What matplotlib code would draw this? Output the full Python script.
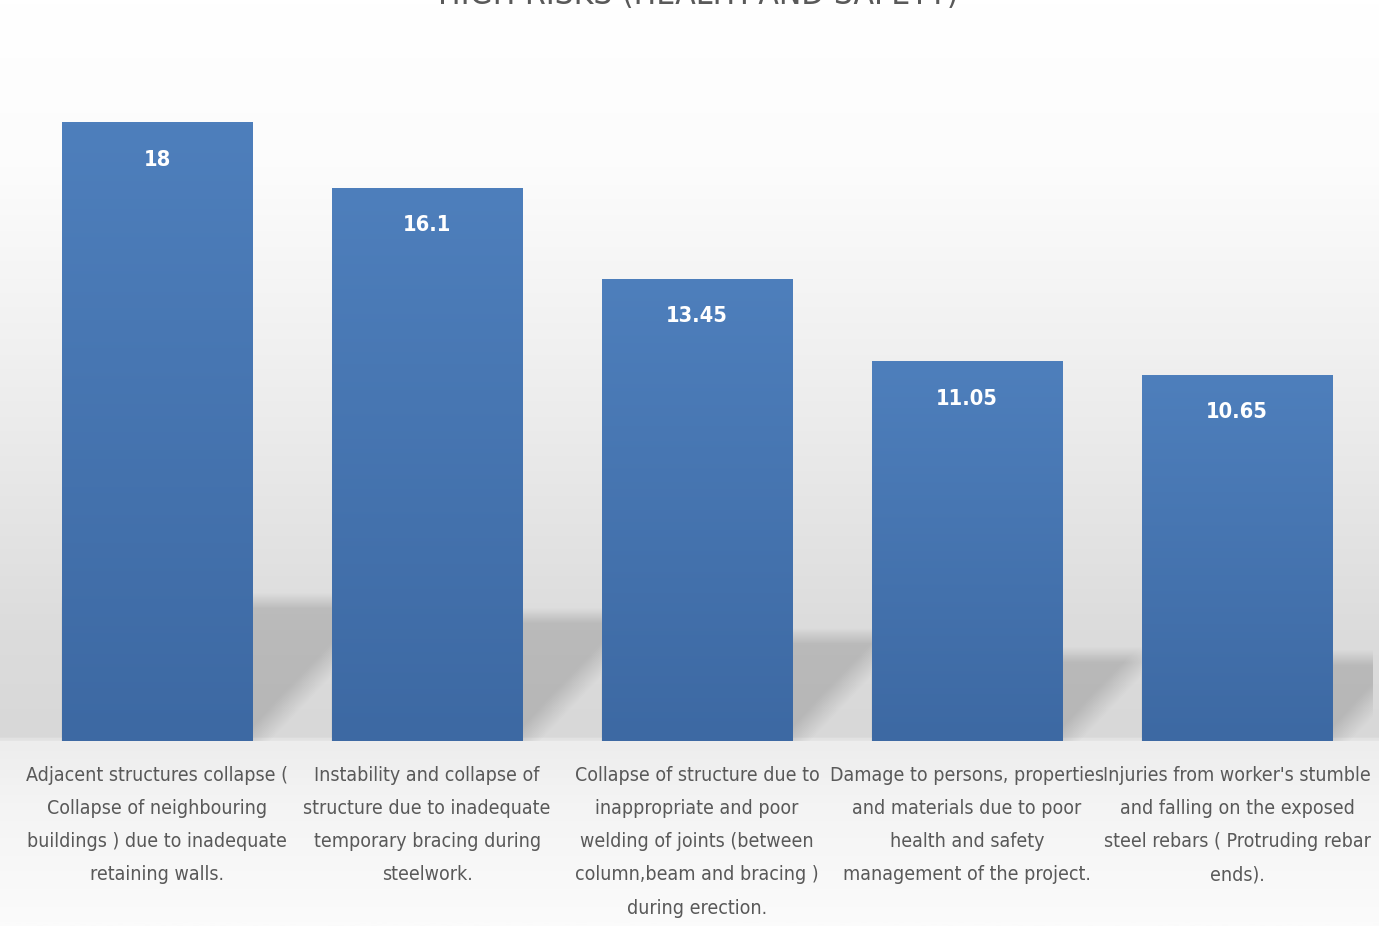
import numpy as np
import matplotlib.pyplot as plt
from matplotlib import font_manager as fm
from matplotlib.colors import LinearSegmentedColormap

categories = [
    "Adjacent structures collapse (\nCollapse of neighbouring\nbuildings ) due to inadequate\nretaining walls.",
    "Instability and collapse of\nstructure due to inadequate\ntemporary bracing during\nsteelwork.",
    "Collapse of structure due to\ninappropriate and poor\nwelding of joints (between\ncolumn,beam and bracing )\nduring erection.",
    "Damage to persons, properties\nand materials due to poor\nhealth and safety\nmanagement of the project.",
    "Injuries from worker's stumble\nand falling on the exposed\nsteel rebars ( Protruding rebar\nends).",
]
values = [18, 16.1, 13.45, 11.05, 10.65]
value_labels = ["18", "16.1", "13.45", "11.05", "10.65"]
title = "HIGH RISKS (HEALTH AND SAFETY)"

# pick a narrow face if one is installed, else plain Liberation Sans
fonts = fm.fontManager.ttflist
names = {f.name for f in fonts}
condensed_dejavu = any(f.name == 'DejaVu Sans' and f.stretch in ('condensed', 587, 'semi-condensed')
                       for f in fonts)
if 'Liberation Sans Narrow' in names:
    FAMILY, STRETCH, SCALE, LABEL_SIZE = ['Liberation Sans Narrow', 'DejaVu Sans'], 'normal', 1.0, 16
elif condensed_dejavu:
    FAMILY, STRETCH, SCALE, LABEL_SIZE = ['DejaVu Sans'], 'condensed', 0.92, 14
else:
    FAMILY, STRETCH, SCALE, LABEL_SIZE = ['Liberation Sans', 'DejaVu Sans'], 'normal', 0.84, 13
plt.rcParams['font.family'] = FAMILY
plt.rcParams['font.stretch'] = STRETCH
LINESP = 33.5 / (0.885 * LABEL_SIZE * 100 / 72)

W, H = 1379, 926
fig = plt.figure(figsize=(W / 100, H / 100), dpi=100)

# background gradient (top to bottom)
bg = fig.add_axes([0, 0, 1, 1], zorder=0)
bg.axis('off')
stops = [(0.0, '#ffffff'), (0.18, '#fcfcfc'), (0.45, '#ececec'), (0.68, '#dcdcdc'),
         (0.797, '#d8d8d8'), (0.803, '#ededed'), (0.87, '#f4f4f4'), (1.0, '#fbfbfb')]
bg_cmap = LinearSegmentedColormap.from_list('bg', stops)
bg.imshow(np.linspace(0, 1, 600).reshape(-1, 1), cmap=bg_cmap, aspect='auto',
          extent=(0, 1, 0, 1))
bg.set_xlim(0, 1)
bg.set_ylim(0, 1)

ax = fig.add_axes([0.016, 0.2, 0.979, 0.742], zorder=1)
ax.set_facecolor('none')
x = np.arange(len(values))
width = 0.707
ax.set_xlim(-0.5, len(values) - 0.5)
ax.set_ylim(0, 20)

# soft shadows cast behind the bars, computed in pixel space of the axes
ax_w_px, ax_h_px = 0.979 * W, 0.742 * H
px_per_x = ax_w_px / len(values)
px_per_y = ax_h_px / 20
gx, gy = np.meshgrid(np.arange(0, ax_w_px, 1.0), np.arange(0, ax_h_px, 1.0))


def soft(d, w):
    return np.clip(0.5 + d / w, 0, 1)


shade = np.zeros_like(gx)
for xi, v in zip(x, values):
    xl = (xi - width / 2 + 0.5) * px_per_x
    xr = (xi + width / 2 + 0.5) * px_per_x
    top = 0.226 * v * px_per_y
    m = (soft(top - gy, 16) * soft(gy - (gx - xr) * 1.05 + 2, 34)
         * soft(xr + 88 - gx, 14) * soft(gx - xl, 2))
    shade = np.maximum(shade, m)
rgba = np.zeros(gx.shape + (4,))
rgba[..., :3] = 0.2
rgba[..., 3] = shade * 0.2
ax.imshow(rgba, origin='lower', extent=(-0.5, len(values) - 0.5, 0, 20),
          aspect='auto', zorder=1, interpolation='bilinear')

bars = ax.bar(x, values, width=width, color='#4575b2', zorder=2, linewidth=0)
grad_cmap = LinearSegmentedColormap.from_list('bar', ['#3d69a3', '#4e7fbc'])
for b in bars:
    bx, by, bw, bh = b.get_x(), b.get_y(), b.get_width(), b.get_height()
    im = ax.imshow(np.linspace(0, 1, 200).reshape(-1, 1), cmap=grad_cmap,
                   origin='lower', aspect='auto', extent=(bx, bx + bw, by, by + bh),
                   zorder=3)
    im.set_clip_path(b)

for xi, v, lab in zip(x, values, value_labels):
    ax.annotate(lab, (xi, v), xytext=(0, -27), textcoords='offset points',
                ha='center', va='center', color='white', fontsize=17 * SCALE,
                fontweight='bold', zorder=4)

ax.set_xticks(x)
ax.set_xticklabels(categories, fontsize=LABEL_SIZE, color='#595959',
                   linespacing=LINESP, ha='center', va='top')
ax.tick_params(axis='x', length=0, pad=18)
ax.set_yticks([])
for s in ax.spines.values():
    s.set_visible(False)

fig.text(0.506, 1 - 4 / H, title, ha='center', va='baseline', fontsize=26 * SCALE,
         color='#595959')

fig.savefig('out.png', dpi=100)
